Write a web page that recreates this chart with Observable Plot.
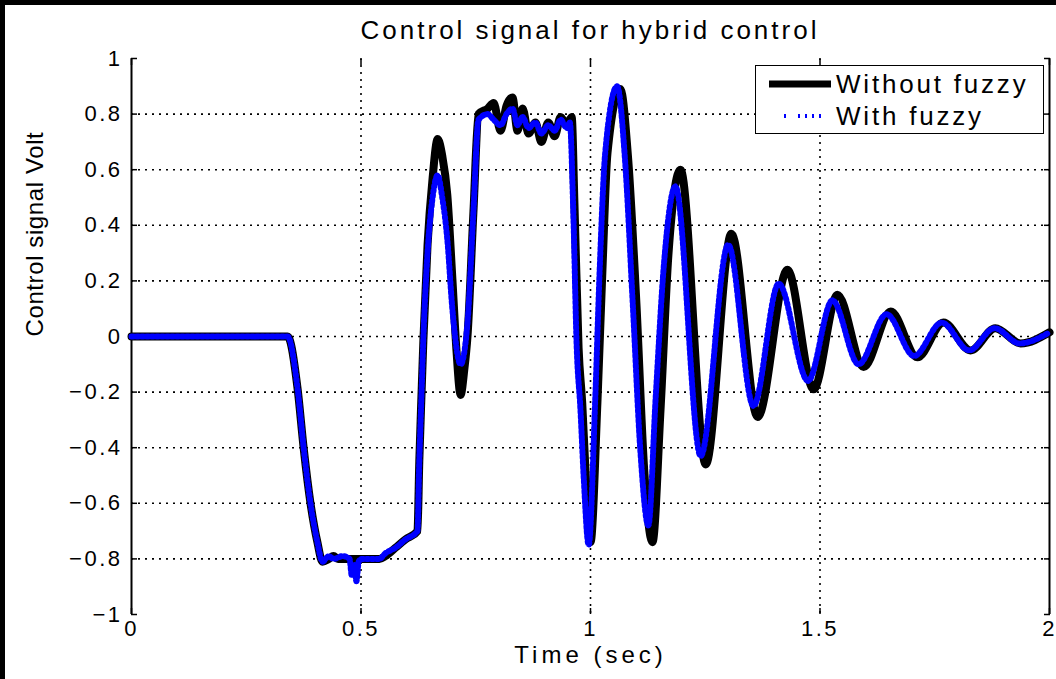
<!DOCTYPE html>
<html>
<head>
<meta charset="utf-8">
<script src="https://cdn.jsdelivr.net/npm/d3@7"></script>
<script src="https://cdn.jsdelivr.net/npm/@observablehq/plot@0.6"></script>
<style>
  body { margin: 0; background: #fff; }
  #wrap { position: relative; width: 1056px; height: 679px; overflow: hidden; background: #fff;
          font-family: "Liberation Sans", Arial, Helvetica, sans-serif; color: #000; }
  #borderL { position: absolute; left: 0; top: 0; width: 5px; height: 679px; background: #000; z-index: 10; }
  #borderT { position: absolute; left: 0; top: 0; width: 1056px; height: 5px; background: #000; z-index: 10; }
  #title { position: absolute; left: 131px; top: 15px; width: 918px; text-align: center;
           font-size: 26px; line-height: 30px; letter-spacing: 3px; z-index: 5; }
  #chart { position: absolute; left: 0; top: 45px; }
  #legend { position: absolute; left: 755px; top: 65px; width: 287px; height: 67px;
            border: 1.5px solid #000; background: #fff; z-index: 5; }
  .lg-row { position: absolute; left: 0; height: 30px; display: flex; align-items: center; }
  .lg-row svg { display: block; }
  .lg-row span { font-size: 26px; margin-left: 5px; letter-spacing: 2.8px; }
</style>
</head>
<body>
<div id="wrap">
  <div id="borderL"></div>
  <div id="borderT"></div>
  <div id="title"></div>
  <div id="chart"></div>
  <div id="legend"></div>
</div>
<script>
// ---- data ----
const chartTitle = "Control signal for hybrid control";
const xLabel = "Time (sec)";
const yLabel = "Control signal Volt";
const seriesNames = ["Without fuzzy", "With fuzzy"];
const seriesColors = ["#000000", "#0000ff"];

const xTicks = [0, 0.5, 1, 1.5, 2];
const yTicks = [-1, -0.8, -0.6, -0.4, -0.2, 0, 0.2, 0.4, 0.6, 0.8, 1];

const timeWithout = [0, 0.34, 0.362, 0.375, 0.390, 0.405, 0.416, 0.43, 0.44, 0.45, 0.46, 0.50, 0.54,
  0.553, 0.575, 0.597, 0.623, 0.627, 0.632, 0.636, 0.645, 0.656, 0.667,
  0.677, 0.688, 0.699, 0.708, 0.717, 0.725, 0.732, 0.745, 0.756,
  0.776, 0.789, 0.804, 0.817, 0.830, 0.841, 0.852, 0.865, 0.880, 0.893, 0.908, 0.922, 0.935, 0.948, 0.959,
  0.965, 0.974, 0.982, 0.989, 1.000, 1.015, 1.026, 1.037, 1.065,
  1.082, 1.100, 1.117, 1.135, 1.153, 1.170, 1.196,
  1.251, 1.307, 1.364, 1.429, 1.486, 1.538, 1.595, 1.654, 1.712, 1.769, 1.828, 1.882, 1.937, 2.0];
const voltWithout = [0, 0, -0.19, -0.40, -0.60, -0.74, -0.81, -0.80, -0.79, -0.80, -0.80, -0.80, -0.80,
  -0.79, -0.76, -0.73, -0.70, -0.45, -0.20, -0.01, 0.33, 0.57, 0.71,
  0.65, 0.51, 0.21, -0.05, -0.21, -0.12, 0.0, 0.45, 0.80,
  0.82, 0.84, 0.74, 0.83, 0.86, 0.74, 0.82, 0.73, 0.77, 0.70, 0.77, 0.72, 0.79, 0.76, 0.79,
  0.48, -0.04, -0.24, -0.48, -0.74, -0.24, 0.24, 0.66, 0.89,
  0.64, 0.12, -0.48, -0.74, -0.25, 0.30, 0.60,
  -0.46, 0.37, -0.29, 0.24, -0.19, 0.15, -0.11, 0.09, -0.075, 0.05, -0.05, 0.03, -0.025, 0.015];

const timeWith = [0, 0.34, 0.362, 0.375, 0.390, 0.405, 0.416, 0.43, 0.44, 0.46,
  0.475, 0.48, 0.485, 0.49, 0.495, 0.50, 0.54, 0.553, 0.575, 0.597, 0.623,
  0.627, 0.632, 0.636, 0.645, 0.656, 0.667, 0.677, 0.688, 0.699, 0.717, 0.732, 0.745, 0.756,
  0.776, 0.789, 0.804, 0.817, 0.830, 0.841, 0.852, 0.865, 0.880, 0.893, 0.908, 0.922, 0.935, 0.948, 0.955,
  0.962, 0.970, 0.978, 0.985, 0.996, 1.010, 1.020, 1.032, 1.058,
  1.075, 1.092, 1.109, 1.126, 1.142, 1.160, 1.185,
  1.240, 1.300, 1.355, 1.410, 1.474, 1.527, 1.584, 1.645, 1.705, 1.765, 1.825, 1.880, 1.935, 2.0];
const voltWith = [0, 0, -0.19, -0.40, -0.60, -0.74, -0.81, -0.79, -0.80, -0.79,
  -0.80, -0.86, -0.82, -0.88, -0.81, -0.80, -0.80, -0.78, -0.76, -0.73, -0.70,
  -0.45, -0.20, 0.0, 0.30, 0.50, 0.58, 0.50, 0.35, 0.10, -0.10, 0.05, 0.45, 0.78,
  0.80, 0.78, 0.76, 0.80, 0.82, 0.76, 0.79, 0.75, 0.77, 0.73, 0.76, 0.74, 0.78, 0.75, 0.77,
  0.48, -0.04, -0.26, -0.50, -0.75, -0.24, 0.24, 0.66, 0.90,
  0.64, 0.12, -0.42, -0.68, -0.22, 0.26, 0.54,
  -0.43, 0.33, -0.25, 0.19, -0.16, 0.13, -0.10, 0.08, -0.07, 0.05, -0.05, 0.03, -0.025, 0.015];

// ---- build ----
const rowsWithout = timeWithout.map((t, i) => ({t, v: voltWithout[i]}));
const rowsWith = timeWith.map((t, i) => ({t, v: voltWith[i]}));
const fmt = d3.format("~g");
const gridStyle = {stroke: "black", strokeOpacity: 1, strokeWidth: 1.6, strokeDasharray: "2,5"};

document.getElementById("title").textContent = chartTitle;

const chart = Plot.plot({
  width: 1056,
  height: 634,
  marginLeft: 131,
  marginRight: 7,
  marginTop: 13,
  marginBottom: 65,
  x: {domain: [0, 2]},
  y: {domain: [-1, 1]},
  style: {fontFamily: "'Liberation Sans', Arial, Helvetica, sans-serif", fontSize: "22px", letterSpacing: "2.5px",
          color: "black", background: "white", overflow: "visible"},
  marks: [
    Plot.gridX(xTicks.slice(1, -1), gridStyle),
    Plot.gridY(yTicks.slice(1, -1), gridStyle),
    Plot.ruleX([xTicks[0], xTicks[xTicks.length - 1]], {stroke: "black", strokeWidth: 2}),
    Plot.axisY(yTicks, {anchor: "left", tickSize: 6, dx: 6, tickPadding: 9, tickFormat: fmt, label: null, fontSize: 22, strokeWidth: 1.5}),
    Plot.axisY(yTicks, {anchor: "right", tickSize: 6, dx: -6, tickFormat: () => "", label: null, strokeWidth: 1.5}),
    Plot.axisX(xTicks, {anchor: "bottom", tickSize: 6, dy: -6, tickPadding: 6, tickFormat: fmt, label: null, fontSize: 22, strokeWidth: 1.5}),
    Plot.axisX(xTicks, {anchor: "top", tickSize: 6, dy: 6, tickFormat: () => "", label: null, strokeWidth: 1.5}),
    Plot.line(rowsWithout, {x: "t", y: "v", stroke: seriesColors[0], strokeWidth: 8, curve: "monotone-x"}),
    Plot.line(rowsWith, {x: "t", y: "v", stroke: seriesColors[1], strokeWidth: 6, strokeDasharray: "2,3", curve: "monotone-x"}),
    Plot.text([xLabel], {text: d => d, frameAnchor: "bottom", dy: 48, fontSize: 24}),
    Plot.text([yLabel], {text: d => d, frameAnchor: "left", rotate: -90, dx: -96, fontSize: 24})
  ]
});
// per-label letter spacing to match the reference text extents
chart.querySelectorAll("text").forEach(t => {
  if (t.textContent === xLabel) t.style.letterSpacing = "4px";
  else if (t.textContent === yLabel) t.style.letterSpacing = "0.6px";
});
document.getElementById("chart").appendChild(chart);

// ---- legend ----
const legend = document.getElementById("legend");
seriesNames.forEach((name, i) => {
  const row = document.createElement("div");
  row.className = "lg-row";
  row.style.top = (i === 0 ? 3 : 35) + "px";
  row.style.left = "13px";
  const ns = "http://www.w3.org/2000/svg";
  const sw = document.createElementNS(ns, "svg");
  sw.setAttribute("width", "62");
  sw.setAttribute("height", "20");
  const ln = document.createElementNS(ns, "line");
  ln.setAttribute("x1", i === 0 ? "0" : "15");
  ln.setAttribute("x2", "62");
  ln.setAttribute("y1", "10");
  ln.setAttribute("y2", "10");
  ln.setAttribute("stroke", seriesColors[i]);
  ln.setAttribute("stroke-width", i === 0 ? "7" : "4");
  if (i === 1) ln.setAttribute("stroke-dasharray", "2,12,2,5,2,5,2,5");
  sw.appendChild(ln);
  const tx = document.createElement("span");
  tx.textContent = name;
  row.appendChild(sw);
  row.appendChild(tx);
  legend.appendChild(row);
});
</script>
</body>
</html>
